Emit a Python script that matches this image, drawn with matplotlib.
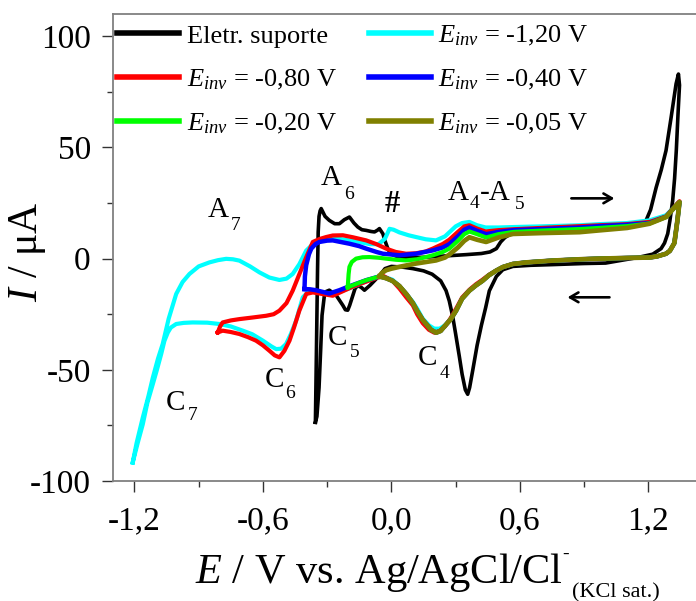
import numpy as np
import matplotlib
matplotlib.use('Agg')
import matplotlib.pyplot as plt
from matplotlib.ticker import MultipleLocator, FuncFormatter

plt.rcParams['font.family'] = ['Liberation Serif', 'DejaVu Serif']
plt.rcParams['mathtext.fontset'] = 'custom'
plt.rcParams['mathtext.rm'] = 'Liberation Serif'
plt.rcParams['mathtext.it'] = 'Liberation Serif:italic'
plt.rcParams['mathtext.bf'] = 'Liberation Serif:bold'
plt.rcParams['axes.unicode_minus'] = False

# ---------------- data (E / V, I / uA), each curve is one closed cycle ----------------
# supporting electrolyte
e_black = [-0.355, -0.350, -0.345, -0.342, -0.338, -0.333, -0.328, -0.310, -0.290, -0.265, -0.243, -0.220,
           -0.196, -0.175, -0.157, -0.138, -0.118, -0.095, -0.079, -0.065, -0.056, -0.040, -0.030, -0.015,
           0.000, 0.030, 0.080, 0.150, 0.250, 0.350, 0.420, 0.460, 0.490, 0.510, 0.530, 0.560, 0.600, 0.700,
           0.850, 1.000, 1.100, 1.150, 1.189, 1.210, 1.236, 1.260, 1.282, 1.306, 1.329, 1.340,
           1.345, 1.338, 1.330, 1.322, 1.313, 1.300, 1.290, 1.275, 1.259, 1.220, 1.150, 1.000, 0.900, 0.750,
           0.650, 0.567, 0.520, 0.490, 0.457, 0.440, 0.420, 0.400, 0.380, 0.365, 0.356, 0.345, 0.330, 0.317,
           0.300, 0.286, 0.270, 0.255, 0.230, 0.190, 0.150, 0.100, 0.050, 0.000, -0.030, -0.050, -0.077,
           -0.100, -0.126, -0.140, -0.157, -0.170, -0.180, -0.195, -0.204, -0.215, -0.227, -0.258, -0.290,
           -0.305, -0.313, -0.324, -0.330, -0.338, -0.348, -0.355]
i_black = [-73.6, -40, -5, 12, 19, 21.5, 22.5, 19, 17.2, 15.7, 15.7, 17.5,
           18.7, 16, 14.2, 13, 12.7, 12.2, 12, 12.8, 13.5, 11.2, 8, 4,
           2, 0.8, 0.5, 0.6, 1.2, 1.8, 2.3, 3.0, 4.5, 7.5, 9.5, 11.3, 12, 12.3,
           12.8, 13.5, 14.3, 15.5, 17.2, 22, 32, 40, 48.6, 63.6, 78.6, 83,
           78, 65, 48.6, 36, 26, 17, 11.2, 7, 4.5, 2, 0.5, -2, -2.2, -2.7,
           -3, -3.5, -5, -8, -14.5, -22, -30, -39, -50, -58, -61, -59, -52, -44,
           -34, -26, -19, -14.4, -10, -7, -5.5, -4.5, -3.8, -3.5, -4.5, -7, -9.7,
           -12, -14.2, -13, -12, -13.5, -16.5, -21, -23.2, -23, -21, -16.5, -14.2,
           -14.8, -16.5, -25.5, -40, -58, -71, -73.6]

# E_inv = -1,20 V
e_cyan = [-1.208, -1.19, -1.161, -1.135, -1.114, -1.09, -1.068, -1.04, -1.005, -0.975, -0.943, -0.90,
          -0.85, -0.81, -0.772, -0.74, -0.71, -0.66, -0.616, -0.57, -0.523, -0.49, -0.461, -0.43, -0.398,
          -0.367, -0.336, -0.30, -0.25, -0.20, -0.15, -0.10, -0.06, -0.03, -0.009, 0.01, 0.037, 0.08,
          0.115, 0.16, 0.208, 0.25, 0.30, 0.33, 0.364, 0.40, 0.44, 0.50, 0.57, 0.70, 0.88, 0.97, 1.10,
          1.205, 1.282, 1.337, 1.345,
          1.335, 1.321, 1.30, 1.282, 1.24, 1.205, 1.10, 0.97, 0.88, 0.75, 0.63, 0.567, 0.52, 0.489,
          0.455, 0.425, 0.395, 0.364, 0.33, 0.302, 0.275, 0.25, 0.225, 0.20, 0.175, 0.146, 0.12, 0.10,
          0.07, 0.037, 0.005, -0.025, -0.056, -0.10, -0.15, -0.20, -0.243, -0.29, -0.336, -0.383, -0.414,
          -0.445, -0.47, -0.492, -0.515, -0.538, -0.56, -0.60, -0.65, -0.694, -0.75, -0.803, -0.86,
          -0.928, -0.97, -1.005, -1.03, -1.044, -1.06, -1.075, -1.095, -1.114, -1.14, -1.161, -1.185, -1.208]
i_cyan = [-91.7, -83, -71.5, -62, -53.5, -45, -38.4, -27, -15.9, -10.5, -6.9, -3.5,
          -1.7, -0.7, -0.1, -0.3, -0.9, -3.5, -6.2, -8.5, -9.6, -9, -6.9, -2.5, 3.6,
          6.5, 8.5, 9.3, 9.0, 8.2, 7.5, 6.5, 6.5, 9, 13.4, 13.0, 11.8, 10.5,
          9.7, 8.7, 8.2, 10, 14.5, 16, 16.5, 15, 14, 14, 14.2, 14.5, 15, 15.5, 16,
          17.2, 19.5, 24.7, 25.4,
          17, 7, 3.5, 2.2, 1, 0.5, 0.3, 0, -0.3, -0.9, -1.7, -2.4, -3.8, -5.4,
          -7.5, -10, -12, -14.4, -18, -23.4, -27.5, -30, -31.5, -31.5, -30, -27, -22.5, -19.5,
          -16, -12.5, -9.5, -8.5, -8, -9.5, -11.5, -13.5, -15, -15.7, -15, -14.5, -17.4,
          -27.9, -34, -38.4, -40.5, -40.7, -39.5, -36.9, -34, -32.4, -30.5, -29.4, -28.8,
          -28.7, -28.9, -29.4, -31, -33.2, -37, -42.9, -50, -56.4, -65, -74.5, -83, -91.7]

# E_inv = -0,80 V
e_red = [-0.811, -0.80, -0.788, -0.75, -0.71, -0.65, -0.585, -0.55, -0.523, -0.49, -0.461, -0.43,
         -0.398, -0.367, -0.336, -0.305, -0.274, -0.227, -0.18, -0.118, -0.07, -0.025, 0.02, 0.068,
         0.115, 0.16, 0.193, 0.24, 0.27, 0.31, 0.34, 0.364, 0.40, 0.44, 0.50, 0.57, 0.70, 0.88, 0.97,
         1.10, 1.205, 1.282, 1.337, 1.345,
         1.335, 1.321, 1.30, 1.282, 1.24, 1.205, 1.10, 0.97, 0.88, 0.75, 0.63, 0.567, 0.52, 0.489,
         0.455, 0.425, 0.395, 0.364, 0.33, 0.302, 0.275, 0.25, 0.225, 0.20, 0.175, 0.146, 0.12, 0.10,
         0.07, 0.037, 0.005, -0.04, -0.10, -0.18, -0.274, -0.367, -0.398, -0.43, -0.455, -0.476, -0.50,
         -0.523, -0.545, -0.57, -0.60, -0.632, -0.67, -0.71, -0.75, -0.788, -0.811]
i_red = [-33.2, -30.5, -28.7, -27.8, -27.2, -26.5, -25.7, -25, -23.4, -20, -14.4, -7,
         0.6, 7.5, 8.8, 9.7, 10.4, 10.5, 9.6, 8.2, 6.5, 4.5, 3, 2.2,
         2.4, 3.2, 4.5, 6.6, 8.5, 12, 14.5, 15, 13.5, 12.2, 12.8, 13.2, 13.8, 14.6, 15,
         15.5, 16.5, 19, 25, 25.8,
         17, 7, 3.5, 2.2, 1, 0.5, 0.3, 0, -0.3, -0.9, -1.7, -2.4, -3.8, -5.4,
         -7.3, -9.5, -11.5, -14, -17.5, -22.5, -27, -30.5, -32.5, -33.3, -32, -29, -25, -21,
         -17.5, -13.4, -10, -7.7, -9.7, -12.6, -16.7, -15.2, -15.9, -23.4, -31, -36.9, -41.5,
         -44.4, -43.5, -41.4, -39, -36.9, -35.3, -33.9, -33, -32.4, -33.2]

# common return branch of the three short cycles (1,34 V back to -0,056 V)
e_back = [1.335, 1.321, 1.30, 1.282, 1.24, 1.205, 1.10, 0.97, 0.88, 0.75, 0.63, 0.567, 0.52, 0.489,
          0.455, 0.425, 0.395, 0.364, 0.33, 0.302, 0.275, 0.25, 0.23, 0.209, 0.185, 0.146, 0.12, 0.10,
          0.07, 0.037, 0.005, -0.025, -0.056]
i_back = [17, 7, 3.5, 2.2, 1, 0.5, 0.3, 0, -0.3, -0.9, -1.7, -2.4, -3.8, -5.4,
          -7.5, -10, -12, -14.4, -18, -23.4, -27.5, -30.2, -32.5, -33.3, -32, -27.5, -23.5, -20,
          -16, -12.3, -10, -8.8, -8]

# E_inv = -0,40 V
e_blue = [-0.406, -0.404, -0.398, -0.385, -0.374, -0.355, -0.336, -0.30, -0.274, -0.243, -0.196, -0.15,
          -0.118, -0.07, -0.04, 0.037, 0.115, 0.193, 0.24, 0.27, 0.31, 0.34, 0.364, 0.40, 0.442, 0.50,
          0.57, 0.70, 0.88, 0.97, 1.10, 1.205, 1.282, 1.337, 1.345]
i_blue = [-13.7, -8, -3, 2, 4.5, 6.5, 7.5, 8.1, 8.2, 7.6, 6.7, 5.6,
          4.5, 3, 2.2, 1.5, 2.2, 3.7, 5, 6.5, 10, 13, 14, 12.5, 11, 12,
          12.8, 13.3, 14, 14.6, 15.2, 16, 18.8, 24.7, 25.4]
e_blue_end = [-0.118, -0.204, -0.243, -0.29, -0.353, -0.38, -0.406]
i_blue_end = [-9.7, -12.7, -14.2, -15.7, -14.2, -13.8, -13.7]

# E_inv = -0,20 V
e_green = [-0.204, -0.20, -0.196, -0.185, -0.165, -0.135, -0.103, -0.06, -0.025, 0.02, 0.068, 0.12,
           0.193, 0.24, 0.27, 0.31, 0.34, 0.364, 0.40, 0.442, 0.50, 0.57, 0.70, 0.88, 0.97, 1.10,
           1.205, 1.282, 1.337, 1.345]
i_green = [-12.9, -7, -3.7, -1.5, 0, 0.6, 0.7, 0.4, 0, -0.5, -0.8, -0.3,
           1.5, 3, 4.5, 8, 11, 12.2, 11, 9.5, 11, 12, 12.6, 13.3, 13.8, 14.6,
           15.8, 18.7, 24.7, 25.4]
e_green_end = [-0.118, -0.16, -0.204]
i_green_end = [-9.7, -11.2, -12.9]

# E_inv = -0,05 V
e_olive = [-0.056, -0.045, -0.025, 0.0, 0.037, 0.115, 0.208, 0.25, 0.27, 0.31, 0.34, 0.364,
           0.40, 0.442, 0.50, 0.567, 0.70, 0.878, 0.97, 1.10, 1.205, 1.282, 1.337, 1.345]
i_olive = [-8, -6.5, -5.2, -4.5, -3.7, -2.2, -0.8, 0.5, 1.8, 5, 8, 9.6,
           8.5, 7.5, 9.5, 11.1, 11.5, 11.9, 12.7, 13.8, 15.7, 18.7, 24.7, 25.4]

labels = ['Eletr. suporte', '$E_{inv}$ = -1,20 V', '$E_{inv}$ = -0,80 V',
          '$E_{inv}$ = -0,40 V', '$E_{inv}$ = -0,20 V', '$E_{inv}$ = -0,05 V']
colors = ['#000000', '#00FFFF', '#FF0000', '#0000FF', '#00FF00', '#808000']

# ---------------- figure ----------------
fig = plt.figure(figsize=(6.96, 6.01), dpi=100)
ax = fig.add_axes([113 / 696, 1 - 481 / 601, 589 / 696, 467 / 601])

l_black, = ax.plot(e_black, i_black, color=colors[0], lw=2.6, zorder=2)
l_cyan, = ax.plot(e_cyan, i_cyan, color=colors[1], lw=3.0, zorder=3)
l_red, = ax.plot(e_red, i_red, color=colors[2], lw=3.0, zorder=4)
l_blue, = ax.plot(e_blue + e_back + e_blue_end, i_blue + i_back + i_blue_end,
                  color=colors[3], lw=3.2, zorder=5)
l_green, = ax.plot(e_green + e_back + e_green_end, i_green + i_back + i_green_end,
                   color=colors[4], lw=3.0, zorder=6)
l_olive, = ax.plot(e_olive + e_back, i_olive + i_back, color=colors[5], lw=3.4, zorder=7)

ax.set_xlim(-1.3, 1.45)
ax.set_ylim(-100, 110)

ax.xaxis.set_major_locator(MultipleLocator(0.6))
ax.xaxis.set_minor_locator(MultipleLocator(0.3))
ax.yaxis.set_major_locator(MultipleLocator(50))
ax.yaxis.set_minor_locator(MultipleLocator(25))
ax.xaxis.set_major_formatter(FuncFormatter(lambda v, p: ('%.1f' % v).replace('.', ',').replace('-0,0', '0,0')))
ax.yaxis.set_major_formatter(FuncFormatter(lambda v, p: '%d' % round(v)))
ax.tick_params(which='major', direction='out', length=8, width=1, labelsize=24, color='#333333')
ax.tick_params(which='minor', direction='out', length=4, width=1, color='#333333')
ax.tick_params(axis='x', pad=10)
ax.tick_params(axis='y', pad=8)
for s in ax.spines.values():
    s.set_color('#808080')
    s.set_linewidth(1.3)

# axis titles
fig.text(27 / 696, 1 - 252 / 601, '$I$ / μA', rotation=90, fontsize=30, ha='center', va='center')
fig.text(195 / 696, 1 - 583 / 601, '$E$ / V vs. Ag/AgCl/Cl', fontsize=30.5, ha='left', va='baseline')
fig.text(562 / 696, 1 - 559 / 601, '-', fontsize=14, ha='left', va='baseline')
fig.text(572 / 696, 1 - 597 / 601, '(KCl sat.)', fontsize=16, ha='left', va='baseline')

# peak labels: (main text, E, I, subscript, E, I)
peak_labels = [('A', -0.859, 18.5, '7', -0.752, 12.7),
               ('A', -0.328, 32.9, '6', -0.219, 26.9),
               ('A', 0.263, 26.2, '4', 0.366, 22.6),
               ('-A', 0.413, 26.2, '5', 0.574, 22.1),
               ('C', -0.297, -38.9, '5', -0.194, -44.2),
               ('C', -0.593, -57.7, '6', -0.497, -62.7),
               ('C', -1.052, -68.1, '7', -0.950, -72.6),
               ('C', 0.123, -47.9, '4', 0.226, -53.8)]
for main, ex, iy, sub, sx, sy in peak_labels:
    ax.text(ex, iy, main, fontsize=21, ha='left', va='baseline', zorder=10)
    ax.text(sx, sy, sub, fontsize=14, ha='left', va='baseline', zorder=10)
ax.text(-0.033, 20.8, '#', fontsize=22, fontweight='bold', ha='left', va='baseline', zorder=10)

# sweep direction arrows
ax.annotate('', xy=(1.041, 27.1), xytext=(0.84, 27.1),
            arrowprops=dict(arrowstyle='->,head_length=0.6,head_width=0.35', lw=1.9, color='black',
                            shrinkA=0, shrinkB=0))
ax.annotate('', xy=(0.822, -17.4), xytext=(1.018, -17.4),
            arrowprops=dict(arrowstyle='->,head_length=0.6,head_width=0.35', lw=1.9, color='black',
                            shrinkA=0, shrinkB=0))

handles = [l_black, l_red, l_green, l_cyan, l_blue, l_olive]
leg_labels = [labels[0], labels[2], labels[4], labels[1], labels[3], labels[5]]
leg = ax.legend(handles, leg_labels, ncol=2, loc='upper left', bbox_to_anchor=(117 / 696, 1 - 24 / 601),
                bbox_transform=fig.transFigure, frameon=False, fontsize=19, borderpad=0, borderaxespad=0,
                handlelength=2.35, handletextpad=0.3, columnspacing=1.2, labelspacing=0.75)
for ln in leg.get_lines():
    ln.set_linewidth(4)

plt.savefig('out.png', dpi=100)
